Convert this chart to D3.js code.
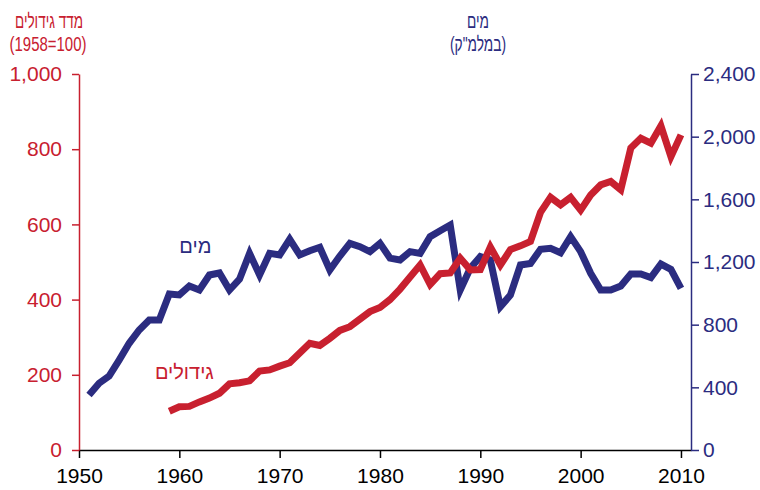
<!DOCTYPE html>
<html>
<head>
<meta charset="utf-8">
<script src="https://cdn.jsdelivr.net/npm/d3@7"></script>
<style>
  body { margin: 0; background: #fff; }
  text { font-family: "Liberation Sans", Arial, sans-serif; }
</style>
</head>
<body>
<div id="container"></div>
<script>
// Data
const waterYears = d3.range(1951, 2011);
const waterValues = [
  351, 426, 472, 574, 681, 766, 830, 830, 996, 990,
  1047, 1021, 1117, 1130, 1021, 1090, 1255, 1117, 1255, 1245,
  1345, 1245, 1272, 1294, 1149, 1238, 1319, 1298, 1266, 1319,
  1225, 1213, 1266, 1255, 1362, 1400, 1436, 1021, 1160, 1234,
  1213, 915, 989, 1181, 1191, 1281, 1287, 1259, 1362, 1266,
  1128, 1021, 1021, 1047, 1123, 1123, 1100, 1187, 1153, 1032
];
const cropYears = d3.range(1959, 2011);
const cropValues = [
  103, 115, 116, 128, 138, 151, 176, 179, 184, 210,
  213, 223, 232, 258, 284, 278, 297, 318, 328, 348,
  368, 379, 400, 428, 460, 492, 440, 469, 471, 510,
  479, 480, 540, 492, 533, 543, 555, 632, 672, 652,
  672, 638, 678, 705, 714, 692, 803, 829, 816, 862,
  780, 838
];
const xTicks = [1950, 1960, 1970, 1980, 1990, 2000, 2010];
const leftTicks = [0, 200, 400, 600, 800, 1000];
const rightTicks = [0, 400, 800, 1200, 1600, 2000, 2400];

const red = "#c8202f";
const blue = "#2b2c80";

// Set the dimensions of the canvas / graph
const margin = { top: 74, right: 69, bottom: 40, left: 79 };
const width = 760 - margin.left - margin.right;
const height = 490 - margin.top - margin.bottom;

const svg = d3.select("#container")
  .append("svg")
  .attr("width", width + margin.left + margin.right)
  .attr("height", height + margin.top + margin.bottom);

const g = svg.append("g")
  .attr("transform", "translate(" + margin.left + "," + margin.top + ")");

// Scales
const xScale = d3.scaleLinear().domain([1950, 2011]).range([0, width]);
const yLeft = d3.scaleLinear().domain([0, 1000]).range([height, 0]);
const yRight = d3.scaleLinear().domain([0, 2400]).range([height, 0]);

// Lines
const water = waterYears.map(function(y, i) { return { year: y, value: waterValues[i] }; });
const crops = cropYears.map(function(y, i) { return { year: y, value: cropValues[i] }; });

g.append("path")
  .datum(water)
  .attr("fill", "none")
  .attr("stroke", blue)
  .attr("stroke-width", 7)
  .attr("d", d3.line()
    .x(function(d) { return xScale(d.year); })
    .y(function(d) { return yRight(d.value); }));

g.append("path")
  .datum(crops)
  .attr("fill", "none")
  .attr("stroke", red)
  .attr("stroke-width", 7)
  .attr("d", d3.line()
    .x(function(d) { return xScale(d.year); })
    .y(function(d) { return yLeft(d.value); }));

// Axes
const xAxis = g.append("g")
  .attr("transform", "translate(0," + height + ")")
  .call(d3.axisBottom(xScale).tickValues(xTicks).tickFormat(d3.format("d"))
    .tickSize(8).tickSizeOuter(0).tickPadding(10));

const leftAxis = g.append("g")
  .call(d3.axisLeft(yLeft).tickValues(leftTicks).tickFormat(d3.format(","))
    .tickSize(7).tickSizeOuter(0).tickPadding(10));

const rightAxis = g.append("g")
  .attr("transform", "translate(" + width + ",0)")
  .call(d3.axisRight(yRight).tickValues(rightTicks).tickFormat(d3.format(","))
    .tickSize(8).tickSizeOuter(0).tickPadding(4));

function styleAxis(axis, color) {
  axis.selectAll("path, line").attr("stroke", color).attr("stroke-width", 1.5);
  axis.selectAll("text")
    .attr("fill", color)
    .style("font-size", "21px");
}
styleAxis(xAxis, "#000");
styleAxis(leftAxis, red);
styleAxis(rightAxis, blue);

// Axis titles (narrow font in the original, so squeeze to its widths)
function title(x, y, txt, color, w, rtl) {
  svg.append("text")
    .attr("x", x).attr("y", y)
    .attr("text-anchor", "middle")
    .attr("direction", rtl ? "rtl" : "ltr")
    .attr("fill", color)
    .attr("textLength", w)
    .attr("lengthAdjust", "spacingAndGlyphs")
    .style("font-size", "20px")
    .text(txt);
}
title(49, 28, "מדד גידולים", red, 68, true);
title(48, 51, "(1958=100)", red, 77, false);
title(478, 28, "מים", blue, 22, true);
title(478, 51, "(במלמ\"ק)", blue, 56, true);

// Series labels
g.append("text")
  .attr("x", xScale(1961.6)).attr("y", yRight(1255))
  .attr("text-anchor", "middle")
  .attr("direction", "rtl")
  .attr("fill", blue)
  .style("font-size", "20px")
  .text("מים");

g.append("text")
  .attr("x", xScale(1960.5)).attr("y", yLeft(190))
  .attr("text-anchor", "middle")
  .attr("direction", "rtl")
  .attr("fill", red)
  .style("font-size", "20px")
  .text("גידולים");
</script>
</body>
</html>
